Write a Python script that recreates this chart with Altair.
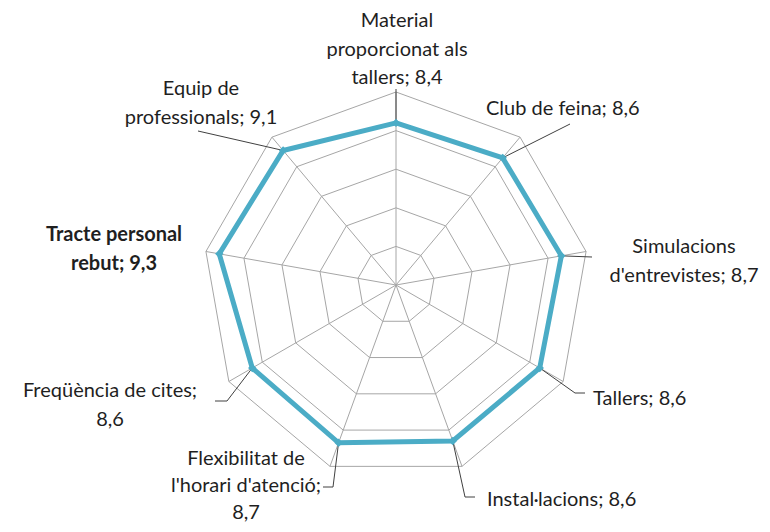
import altair as alt
import pandas as pd

# ---------------- data ----------------
categories = [
    "Material proporcionat als tallers",
    "Club de feina",
    "Simulacions d'entrevistes",
    "Tallers",
    "Instal·lacions",
    "Flexibilitat de l'horari d'atenció",
    "Freqüència de cites",
    "Tracte personal rebut",
    "Equip de professionals",
]
values = [8.4, 8.6, 8.7, 8.6, 8.6, 8.7, 8.6, 9.3, 9.1]
ring_levels = [2, 4, 6, 8, 10]
axis_max = 10

# label line breaks (text layout, as in the original)
label_breaks = [
    ["Material", "proporcionat als", "tallers; {v}"],
    ["Club de feina; {v}"],
    ["Simulacions", "d'entrevistes; {v}"],
    ["Tallers; {v}"],
    ["Instal·lacions; {v}"],
    ["Flexibilitat de", "l'horari d'atenció;", "{v}"],
    ["Freqüència de cites;", "{v}"],
    ["Tracte personal", "rebut; {v}"],
    ["Equip de", "professionals; {v}"],
]

# ---------------- layout (pixels on the page) ----------------
CX, CY = 396, 285          # centre of the radar on the page
PX = 19.3                  # pixels per value unit
W, H = 754, 516
# label anchors: (x, first-baseline y, align, bold, line height)
label_pos = [
    (397, 27, "center", False, 28.5),
    (486, 115, "left", False, 28.5),
    (684, 253, "center", False, 28.5),
    (593, 405, "left", False, 28.5),
    (487, 506, "left", False, 28.5),
    (246, 465, "center", False, 27.0),
    (110, 397, "center", False, 28.5),
    (114, 241, "center", True, 28.5),
    (201, 95, "center", False, 28.5),
]
# leader line waypoints after the data point (page px)
leader_pts = [
    [(396, 89)],
    [(570, 124)],
    [(592, 257)],
    [(575, 393), (585, 393)],
    [(465, 497), (475, 497)],
    [(333, 487), (323, 487)],
    [(227, 401), (215, 401)],
    [],
    [(198, 131)],
]

N = len(categories)


def ux(px):
    return (px - CX) / PX


def uy(py):
    return (CY - py) / PX


# series table (closed polygon)
series = pd.DataFrame({
    "cat": categories + [categories[0]],
    "value": values + [values[0]],
    "idx": list(range(N)) + [N],
})

rings = pd.DataFrame(
    [{"level": lv, "idx": i} for lv in ring_levels for i in range(N + 1)]
)

spokes = pd.DataFrame({"idx": list(range(N)), "r": [axis_max] * N})

lab_rows = []
for i, (c, v) in enumerate(zip(categories, values)):
    vs = f"{v:.1f}".replace(".", ",")
    txt = "\n".join(s.format(v=vs) for s in label_breaks[i])
    x, y, al, b, lh = label_pos[i]
    lab_rows.append({"cat": c, "text": txt, "lx": ux(x), "ly": uy(y),
                     "align": al, "bold": b, "lh": lh})
labels = pd.DataFrame(lab_rows)

lead_rows = []
for i, (c, v) in enumerate(zip(categories, values)):
    if not leader_pts[i]:
        continue
    lead_rows.append({"cat": c, "k": 0, "value": v, "idx": i, "wx": None, "wy": None})
    for k, (px_, py_) in enumerate(leader_pts[i], start=1):
        lead_rows.append({"cat": c, "k": k, "value": v, "idx": i,
                          "wx": ux(px_), "wy": uy(py_)})
leaders = pd.DataFrame(lead_rows)

xs = alt.Scale(domain=[ux(8), ux(8 + W)], nice=False, zero=False)
ys = alt.Scale(domain=[uy(8 + H), uy(8)], nice=False, zero=False)

ANG = "2*PI*datum.idx/%d" % N

grid = alt.Chart(rings).transform_calculate(
    gx=f"datum.level*sin({ANG})", gy=f"datum.level*cos({ANG})"
).mark_line(color="#A6A6A6", strokeWidth=1).encode(
    x=alt.X("gx:Q", scale=xs, axis=None),
    y=alt.Y("gy:Q", scale=ys, axis=None),
    detail="level:N",
    order="idx:Q",
)

spk = alt.Chart(spokes).transform_calculate(
    sx=f"datum.r*sin({ANG})", sy=f"datum.r*cos({ANG})", z="0"
).mark_rule(color="#A6A6A6", strokeWidth=1).encode(
    x=alt.X("z:Q", scale=xs, axis=None),
    y=alt.Y("z:Q", scale=ys, axis=None),
    x2="sx:Q",
    y2="sy:Q",
)

lead = alt.Chart(leaders).transform_calculate(
    lx=f"datum.k == 0 ? datum.value*sin({ANG}) : datum.wx",
    ly=f"datum.k == 0 ? datum.value*cos({ANG}) : datum.wy",
).mark_line(color="#404040", strokeWidth=1).encode(
    x=alt.X("lx:Q", scale=xs, axis=None),
    y=alt.Y("ly:Q", scale=ys, axis=None),
    detail="cat:N",
    order="k:Q",
)

line = alt.Chart(series).transform_calculate(
    px=f"datum.value*sin({ANG})", py=f"datum.value*cos({ANG})"
).mark_line(color="#4BACC6", strokeWidth=5, strokeJoin="miter").encode(
    x=alt.X("px:Q", scale=xs, axis=None),
    y=alt.Y("py:Q", scale=ys, axis=None),
    order="idx:Q",
)

pts = alt.Chart(series).transform_filter("datum.idx < %d" % N).transform_calculate(
    px=f"datum.value*sin({ANG})", py=f"datum.value*cos({ANG})"
).mark_point(shape="diamond", filled=True, size=70, color="#4BACC6", opacity=1).encode(
    x=alt.X("px:Q", scale=xs, axis=None),
    y=alt.Y("py:Q", scale=ys, axis=None),
)

FONT = "Lato"
FS = 20


def text_layer(align, bold, lh):
    sub = labels[(labels["align"] == align) & (labels["bold"] == bold) & (labels["lh"] == lh)]
    return alt.Chart(sub).mark_text(
        font=FONT, fontSize=FS, lineHeight=lh, lineBreak="\n",
        align=align, baseline="alphabetic", color="#1F1F1F",
        fontWeight="bold" if bold else "normal",
    ).encode(
        x=alt.X("lx:Q", scale=xs, axis=None),
        y=alt.Y("ly:Q", scale=ys, axis=None),
        text="text:N",
    )


text_layers = []
for (al, b, lh) in sorted({(p[2], p[3], p[4]) for p in label_pos}):
    text_layers.append(text_layer(al, b, lh))

chart = alt.layer(
    grid, spk, lead, line, pts, *text_layers
).properties(
    width=W, height=H, padding=0, autosize=alt.AutoSizeParams(type="none"),
    background="white",
).configure_view(stroke=None)

chart.save("out.html", embed_options={"renderer": "svg", "actions": False})
